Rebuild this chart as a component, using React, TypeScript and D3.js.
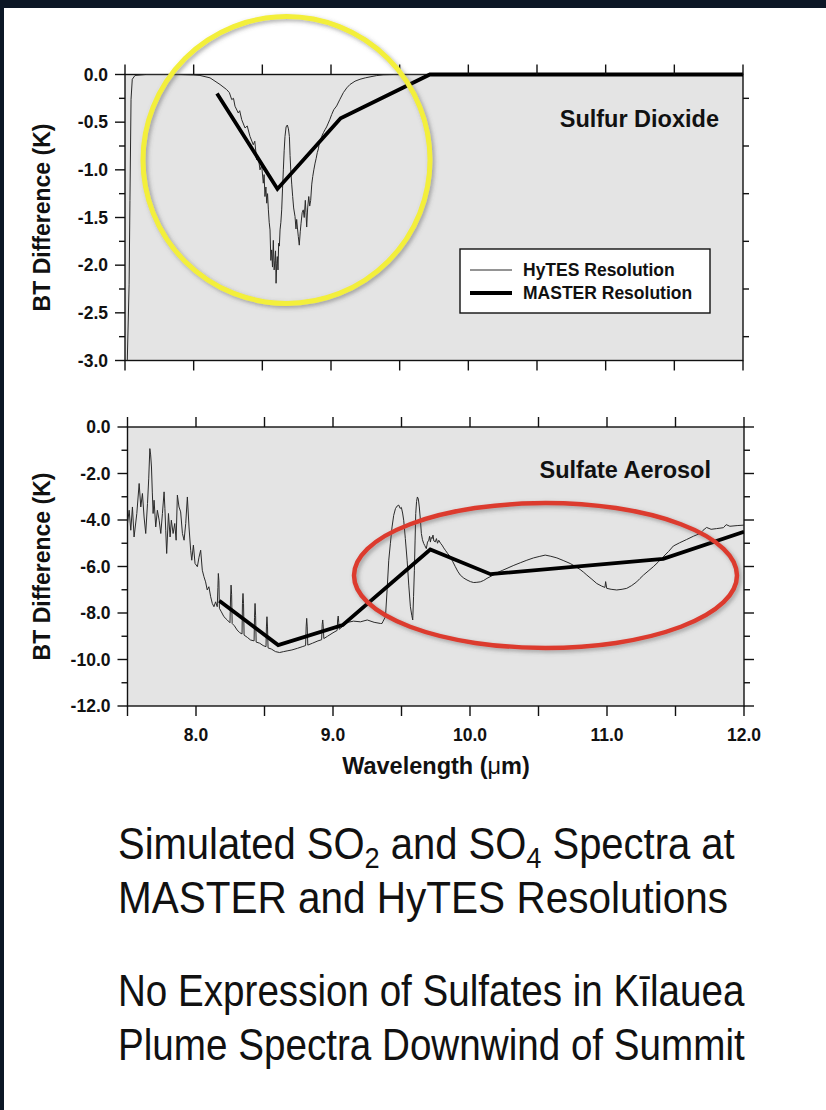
import React, { useLayoutEffect, useRef, useState } from 'react';
import * as d3 from 'd3';

// ---------- data ----------
const wavelengthLabels = [8.0, 9.0, 10.0, 11.0, 12.0];
const wavelengthTicks = [7.5, 8.0, 8.5, 9.0, 9.5, 10.0, 10.5, 11.0, 11.5, 12.0];
const so2Ticks = [0, -0.5, -1.0, -1.5, -2.0, -2.5, -3.0];
const so2Minor = [-0.25, -0.75, -1.25, -1.75, -2.25, -2.75];
const so4Ticks = [0, -2, -4, -6, -8, -10, -12];
const so4Minor = [-1, -3, -5, -7, -9, -11];
const legendLabels = ['HyTES Resolution', 'MASTER Resolution'];
const panelTitles = ['Sulfur Dioxide', 'Sulfate Aerosol'];
const yTitle = 'BT Difference (K)';
const captionLines = [
  'MASTER and HyTES Resolutions',
  'No Expression of Sulfates in K\u012blauea',
  'Plume Spectra Downwind of Summit',
];

const so2Hytes: [number, number][] = [
  [7.515, -3.1], [7.53, -2.2], [7.536, -1.32], [7.544, -0.26], [7.553, -0.05], [7.573, -0.01], [7.65, 0], [7.9, 0],
  [8.0, -0.005], [8.046, -0.01], [8.119, -0.035], [8.192, -0.105], [8.24, -0.158], [8.26, -0.19], [8.277, -0.263],
  [8.29, -0.25], [8.301, -0.333], [8.325, -0.404], [8.335, -0.38], [8.35, -0.474], [8.374, -0.561], [8.39, -0.54],
  [8.41, -0.649], [8.434, -0.737], [8.445, -0.7], [8.459, -0.895], [8.47, -0.86], [8.483, -1.0], [8.495, -0.95],
  [8.507, -1.14], [8.513, -1.05], [8.519, -1.28], [8.526, -1.18], [8.532, -1.35], [8.538, -1.25], [8.544, -1.42],
  [8.55, -1.55], [8.556, -1.63], [8.562, -1.95], [8.568, -1.84], [8.574, -2.02], [8.58, -1.74], [8.586, -2.05],
  [8.592, -1.95], [8.596, -1.85], [8.6, -2.19], [8.605, -1.98], [8.609, -1.91], [8.614, -2.05], [8.619, -1.77],
  [8.624, -1.8], [8.629, -1.63], [8.635, -1.55], [8.641, -1.42], [8.647, -1.2], [8.653, -1.0], [8.659, -0.8],
  [8.665, -0.65], [8.673, -0.55], [8.682, -0.53], [8.69, -0.57], [8.697, -0.65], [8.702, -0.85], [8.707, -1.0],
  [8.714, -1.15], [8.721, -1.28], [8.728, -1.4], [8.738, -1.49], [8.745, -1.62], [8.75, -1.52], [8.755, -1.6],
  [8.762, -1.7], [8.769, -1.79], [8.776, -1.65], [8.782, -1.56], [8.79, -1.45], [8.798, -1.42], [8.805, -1.5],
  [8.813, -1.32], [8.818, -1.45], [8.823, -1.6], [8.83, -1.4], [8.838, -1.28], [8.845, -1.38], [8.852, -1.32],
  [8.86, -1.15], [8.867, -1.07], [8.875, -1.0], [8.884, -0.93], [8.892, -0.88], [8.9, -0.82], [8.908, -0.78],
  [8.915, -0.72], [8.924, -0.69], [8.932, -0.65], [8.945, -0.61], [8.956, -0.58], [8.968, -0.55], [8.98, -0.51],
  [8.992, -0.47], [9.005, -0.42], [9.02, -0.37], [9.041, -0.33], [9.065, -0.26], [9.09, -0.19], [9.115, -0.14],
  [9.138, -0.105], [9.175, -0.07], [9.211, -0.05], [9.25, -0.035], [9.284, -0.025], [9.33, -0.012], [9.38, -0.003],
  [9.45, 0], [12.0, 0],
];
const so2Master: [number, number][] = [
  [8.17, -0.2], [8.61, -1.2], [9.07, -0.46], [9.72, 0], [12.0, 0],
];

const so4Hytes: [number, number][] = [
  [7.5, -4.15], [7.512, -3.58], [7.524, -4.44], [7.536, -3.44], [7.548, -4.73], [7.568, -3.72], [7.585, -2.43],
  [7.597, -3.44], [7.609, -2.86], [7.621, -3.87], [7.633, -4.58], [7.646, -3.29], [7.655, -2.2], [7.663, -0.93],
  [7.669, -1.2], [7.675, -1.72], [7.681, -2.8], [7.687, -3.72], [7.694, -3.15], [7.706, -4.3], [7.718, -3.58],
  [7.731, -4.01], [7.743, -4.58], [7.755, -3.72], [7.767, -2.79], [7.773, -3.5], [7.779, -4.44], [7.786, -5.44],
  [7.799, -3.72], [7.811, -4.73], [7.82, -4.01], [7.833, -4.58], [7.845, -4.15], [7.855, -4.87], [7.864, -2.93],
  [7.876, -3.44], [7.888, -3.65], [7.901, -4.58], [7.913, -4.87], [7.925, -4.15], [7.937, -3.01], [7.949, -4.3],
  [7.961, -5.3], [7.969, -5.73], [7.981, -5.08], [7.993, -5.87], [8.01, -6.01], [8.022, -5.6], [8.034, -5.3],
  [8.046, -6.16], [8.058, -6.44], [8.07, -6.66], [8.082, -7.01], [8.094, -6.87], [8.107, -7.3], [8.119, -7.59],
  [8.131, -7.73], [8.143, -7.52], [8.155, -7.73], [8.16, -6.9], [8.163, -6.3], [8.167, -6.6], [8.171, -7.8],
  [8.185, -7.95], [8.204, -8.16], [8.228, -8.3], [8.248, -8.42], [8.252, -7.4], [8.256, -6.8], [8.26, -7.2],
  [8.264, -8.45], [8.28, -8.55], [8.3, -8.73], [8.32, -8.85], [8.336, -8.9], [8.339, -7.6], [8.343, -7.16],
  [8.347, -7.6], [8.351, -8.95], [8.375, -9.05], [8.398, -9.16], [8.424, -9.2], [8.427, -8.2], [8.431, -7.59],
  [8.435, -8.1], [8.439, -9.25], [8.465, -9.3], [8.49, -9.4], [8.511, -9.45], [8.514, -8.6], [8.518, -8.16],
  [8.522, -8.6], [8.526, -9.5], [8.55, -9.55], [8.58, -9.66], [8.61, -9.7], [8.64, -9.66], [8.665, -9.63],
  [8.7, -9.59], [8.74, -9.52], [8.775, -9.45], [8.8, -9.4], [8.804, -8.6], [8.808, -8.23], [8.812, -8.6],
  [8.816, -9.38], [8.85, -9.3], [8.89, -9.2], [8.917, -9.15], [8.921, -8.5], [8.925, -8.3], [8.929, -8.6],
  [8.933, -9.1], [8.96, -9.0], [9.0, -8.85], [9.03, -8.75], [9.034, -8.3], [9.038, -8.13], [9.042, -8.4],
  [9.046, -8.7], [9.08, -8.52], [9.11, -8.4], [9.15, -8.35], [9.2, -8.38], [9.25, -8.3], [9.3, -8.4],
  [9.346, -8.45], [9.358, -8.45], [9.366, -8.35], [9.383, -8.16], [9.395, -7.0], [9.407, -5.73], [9.419, -5.0],
  [9.431, -4.3], [9.443, -3.8], [9.456, -3.51], [9.468, -3.4], [9.48, -3.36], [9.49, -3.5], [9.499, -3.46],
  [9.508, -3.7], [9.516, -4.01], [9.528, -4.8], [9.541, -5.73], [9.553, -6.8], [9.565, -7.73], [9.575, -8.1],
  [9.582, -8.3], [9.588, -7.3], [9.594, -6.16], [9.599, -4.9], [9.604, -3.72], [9.61, -3.2], [9.616, -3.01],
  [9.623, -3.1], [9.63, -3.44], [9.638, -4.0], [9.645, -4.58], [9.653, -4.85], [9.662, -5.01], [9.67, -5.1],
  [9.681, -5.23], [9.69, -4.95], [9.699, -4.87], [9.705, -4.7], [9.711, -4.95], [9.717, -4.75], [9.723, -4.8],
  [9.73, -4.65], [9.736, -4.9], [9.747, -4.94], [9.755, -4.8], [9.763, -5.0], [9.772, -4.87], [9.785, -5.0],
  [9.796, -5.08], [9.808, -5.2], [9.82, -5.3], [9.838, -5.45], [9.856, -5.58], [9.875, -5.8], [9.893, -6.01],
  [9.91, -6.2], [9.929, -6.37], [9.955, -6.5], [9.978, -6.58], [10.003, -6.65], [10.027, -6.69], [10.05, -6.68],
  [10.075, -6.66], [10.1, -6.6], [10.124, -6.51], [10.16, -6.4], [10.197, -6.27], [10.235, -6.17], [10.27, -6.08],
  [10.32, -5.95], [10.367, -5.84], [10.415, -5.73], [10.464, -5.63], [10.505, -5.57], [10.549, -5.51],
  [10.59, -5.56], [10.634, -5.63], [10.68, -5.74], [10.731, -5.87], [10.77, -6.0], [10.804, -6.13], [10.83, -6.25],
  [10.853, -6.37], [10.89, -6.55], [10.925, -6.73], [10.96, -6.84], [10.985, -6.9], [10.99, -6.65], [10.998, -6.94],
  [11.03, -6.98], [11.071, -7.01], [11.11, -6.98], [11.144, -6.94], [11.18, -6.82], [11.217, -6.66], [11.24, -6.52],
  [11.266, -6.37], [11.3, -6.2], [11.338, -6.01], [11.375, -5.8], [11.411, -5.58], [11.45, -5.35], [11.484, -5.12],
  [11.53, -4.98], [11.581, -4.84], [11.63, -4.7], [11.679, -4.58], [11.7, -4.45], [11.727, -4.32], [11.76, -4.4],
  [11.8, -4.37], [11.85, -4.33], [11.87, -4.2], [11.897, -4.27], [11.95, -4.24], [12.0, -4.22],
];
const so4Master: [number, number][] = [
  [8.17, -7.47], [8.6, -9.38], [9.07, -8.52], [9.71, -5.27], [10.15, -6.33], [11.41, -5.67], [12.0, -4.51],
];

const FONT = "'Liberation Sans', Arial, Helvetica, sans-serif";

type PanelProps = {
  id: string;
  x: d3.ScaleLinear<number, number>;
  y: d3.ScaleLinear<number, number>;
  hytes: [number, number][];
  master: [number, number][];
  ticks: number[];
  minor: number[];
  rightTicks: { v: number; major: boolean }[];
  title: string;
  titleX: number;
  titleY: number;
  showXLabels: boolean;
  yTitleX: number;
};

function Panel(p: PanelProps) {
  const [x0, x1] = p.x.range();
  const [yb, yt] = p.y.range();
  const line = d3.line<[number, number]>().x((d) => p.x(d[0])).y((d) => p.y(d[1]));
  const sw = 1.4;
  return (
    <g>
      <rect x={x0} y={yt} width={x1 - x0} height={yb - yt} fill="#e4e4e4" />
      <clipPath id={p.id}>
        <rect x={x0} y={yt - 3} width={x1 - x0} height={yb - yt + 3} />
      </clipPath>
      <rect x={x0} y={yt} width={x1 - x0} height={yb - yt} fill="none" stroke="#111" strokeWidth={sw} />
      <g clipPath={`url(#${p.id})`}>
        <path d={line(p.hytes) || ''} fill="none" stroke="#2a2a2a" strokeWidth={1} strokeLinejoin="round" />
        <path d={line(p.master) || ''} fill="none" stroke="#000" strokeWidth={3.8} strokeLinejoin="miter" />
      </g>
      {p.ticks.map((t) => (
        <g key={'l' + t}>
          <line x1={x0 - 10} x2={x0} y1={p.y(t)} y2={p.y(t)} stroke="#111" strokeWidth={sw} />
          <text x={x0 - 17} y={p.y(t)} dy="0.36em" textAnchor="end" fontFamily={FONT} fontWeight="bold" fontSize={17.5} fill="#111">
            {t.toFixed(1)}
          </text>
        </g>
      ))}
      {p.minor.map((t) => (
        <line key={'lm' + t} x1={x0 - 6} x2={x0} y1={p.y(t)} y2={p.y(t)} stroke="#111" strokeWidth={sw} />
      ))}
      {p.rightTicks.map((t) => (
        <line key={'r' + t.v} x1={x1} x2={x1 + (t.major ? 10 : 6)} y1={p.y(t.v)} y2={p.y(t.v)} stroke="#111" strokeWidth={sw} />
      ))}
      {wavelengthTicks.map((w) => (
        <g key={'x' + w}>
          <line x1={p.x(w)} x2={p.x(w)} y1={yt} y2={yt - 10} stroke="#111" strokeWidth={sw} />
          <line x1={p.x(w)} x2={p.x(w)} y1={yb} y2={yb + 10} stroke="#111" strokeWidth={sw} />
        </g>
      ))}
      {p.showXLabels &&
        wavelengthLabels.map((w) => (
          <text key={'xl' + w} x={p.x(w)} y={yb + 35} textAnchor="middle" fontFamily={FONT} fontWeight="bold" fontSize={17.5} fill="#111">
            {w.toFixed(1)}
          </text>
        ))}
      <text x={p.titleX} y={p.titleY} textAnchor="end" fontFamily={FONT} fontWeight="bold" fontSize={23.5} fill="#111">
        {p.title}
      </text>
      <text
        transform={`translate(${p.yTitleX},${(yb + yt) / 2}) rotate(-90)`}
        textAnchor="middle"
        fontFamily={FONT}
        fontWeight="bold"
        fontSize={23}
        fill="#111"
      >
        {yTitle}
      </text>
    </g>
  );
}

// Text that is condensed horizontally to a target width (like the narrow caption font)
function FitText({ x, y, width, children }: { x: number; y: number; width: number; children: React.ReactNode }) {
  const ref = useRef<SVGTextElement>(null);
  const [sx, setSx] = useState(0.9);
  useLayoutEffect(() => {
    if (ref.current) {
      const w = ref.current.getBBox().width;
      if (w > 0) setSx(width / w);
    }
  }, [width]);
  return (
    <g transform={`translate(${x},${y}) scale(${sx},1)`}>
      <text ref={ref} x={0} y={0} fontFamily={FONT} fontSize={44} fill="#111">
        {children}
      </text>
    </g>
  );
}

export default function App() {
  const W = 826;
  const H = 1110;
  const xTop = d3.scaleLinear().domain([7.5, 12]).range([125, 743]);
  const yTop = d3.scaleLinear().domain([-3, 0]).range([360.5, 74.5]);
  const xBot = d3.scaleLinear().domain([7.5, 12]).range([127.5, 744]);
  const yBot = d3.scaleLinear().domain([-12, 0]).range([706, 427]);

  const so2Right = so2Minor.map((v) => ({ v, major: false }));
  const so4Right = [...so4Ticks.map((v) => ({ v, major: true })), ...so4Minor.map((v) => ({ v, major: false }))];

  return (
    <svg width={W} height={H} style={{ position: 'absolute', left: 0, top: 0 }} xmlns="http://www.w3.org/2000/svg">
      <defs>
        <filter id="shadow" x="-20%" y="-20%" width="140%" height="140%">
          <feDropShadow dx="2" dy="2" stdDeviation="2" floodColor="#555" floodOpacity="0.5" />
        </filter>
      </defs>
      <rect x={0} y={0} width={W} height={H} fill="#0c1726" />
      <rect x={4} y={8} width={W - 4} height={H - 8} fill="#ffffff" />

      <Panel
        id="clipTop"
        x={xTop}
        y={yTop}
        hytes={so2Hytes}
        master={so2Master}
        ticks={so2Ticks}
        minor={so2Minor}
        rightTicks={so2Right}
        title={panelTitles[0]}
        titleX={719}
        titleY={126.5}
        showXLabels={false}
        yTitleX={50}
      />
      <g>
        <rect x={460} y={249} width={250} height={64} fill="#fff" stroke="#111" strokeWidth={1.4} />
        <line x1={470} x2={512} y1={270} y2={270} stroke="#2a2a2a" strokeWidth={1} />
        <line x1={470} x2={512} y1={293} y2={293} stroke="#000" strokeWidth={3.8} />
        <text x={523} y={276} fontFamily={FONT} fontWeight="bold" fontSize={17.5} fill="#111">{legendLabels[0]}</text>
        <text x={523} y={299} fontFamily={FONT} fontWeight="bold" fontSize={17.5} fill="#111">{legendLabels[1]}</text>
      </g>

      <Panel
        id="clipBot"
        x={xBot}
        y={yBot}
        hytes={so4Hytes}
        master={so4Master}
        ticks={so4Ticks}
        minor={so4Minor}
        rightTicks={so4Right}
        title={panelTitles[1]}
        titleX={711}
        titleY={478}
        showXLabels={true}
        yTitleX={50}
      />
      <text x={436} y={774} textAnchor="middle" fontFamily={FONT} fontWeight="bold" fontSize={23.5} fill="#111">
        Wavelength (<tspan fontWeight="normal">{'\u03bc'}</tspan>m)
      </text>

      <circle cx={286.5} cy={160} r={143.5} fill="none" stroke="#f3ef3b" strokeWidth={5} filter="url(#shadow)" />
      <ellipse cx={545.5} cy={575.5} rx={191.5} ry={72.5} fill="none" stroke="#dc3b2e" strokeWidth={4.5} filter="url(#shadow)" />

      <FitText x={118} y={859} width={617}>
        Simulated SO<tspan fontSize={30} dy={9}>2</tspan>
        <tspan dy={-9}> and SO</tspan>
        <tspan fontSize={30} dy={9}>4</tspan>
        <tspan dy={-9}> Spectra at</tspan>
      </FitText>
      <FitText x={118} y={913} width={610}>{captionLines[0]}</FitText>
      <FitText x={118} y={1006} width={627}>{captionLines[1]}</FitText>
      <FitText x={118} y={1060} width={627}>{captionLines[2]}</FitText>
    </svg>
  );
}
